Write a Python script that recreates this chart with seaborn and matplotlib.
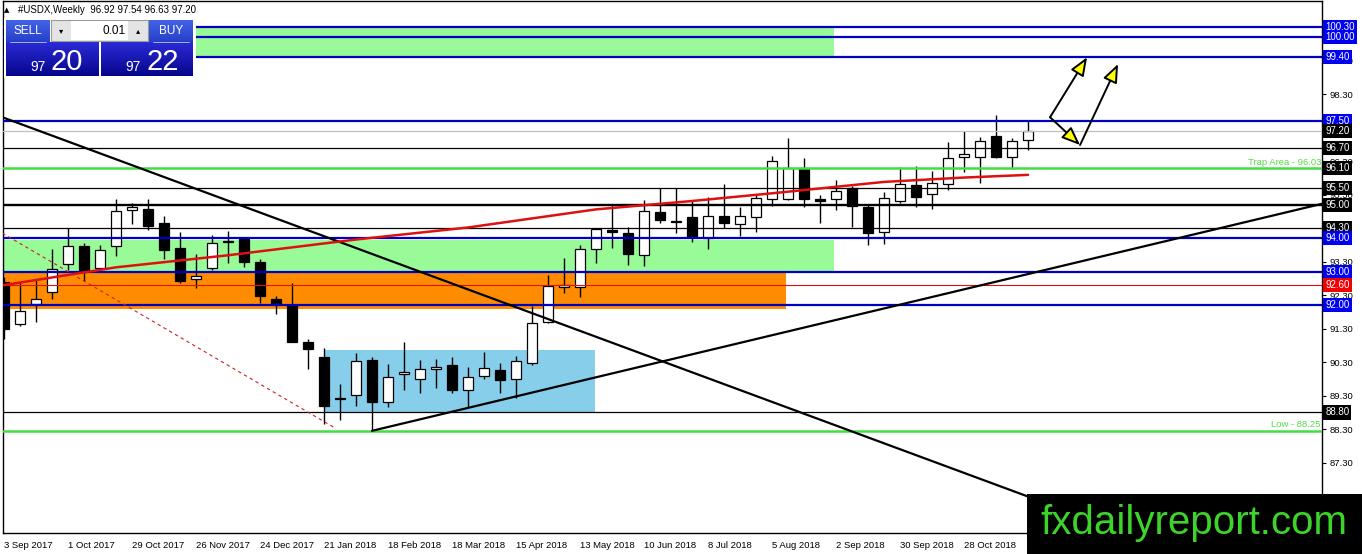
import numpy as np
import pandas as pd
import matplotlib
matplotlib.use('Agg')
import matplotlib.pyplot as plt
import matplotlib.transforms as mtransforms
from matplotlib.patches import Rectangle
from matplotlib.colors import LinearSegmentedColormap
import seaborn as sns

sns.set_style('white')
plt.rcParams['font.family'] = ['Liberation Sans', 'DejaVu Sans']

# weekly candles, first bar = 3 Sep 2017
opens = [92.70, 91.45, 92.03, 92.40, 93.22, 93.76, 93.10, 93.78, 94.83, 94.87,
         94.45, 93.70, 92.77, 93.10, 93.88, 93.99, 93.29, 92.18, 92.00, 90.89,
         90.45, 89.24, 89.33, 90.36, 89.10, 89.96, 89.80, 90.11, 90.21, 89.48,
         89.90, 90.06, 89.80, 90.26, 91.50, 92.55, 92.53, 93.67, 94.23, 94.14,
         93.51, 94.79, 94.50, 94.62, 94.01, 94.67, 94.43, 94.64, 95.18, 95.18,
         96.10, 95.17, 95.18, 95.49, 94.93, 94.19, 95.10, 95.60, 95.33, 95.63,
         96.41, 96.41, 97.05, 96.41, 96.92]
highs = [92.85, 92.70, 92.75, 93.67, 94.29, 93.86, 93.80, 95.17, 95.04, 95.17,
         94.66, 94.18, 93.52, 94.09, 94.21, 94.05, 93.39, 92.27, 92.65, 90.98,
         90.71, 89.64, 90.56, 90.44, 90.23, 90.91, 90.36, 90.38, 90.44, 90.16,
         90.59, 90.26, 90.48, 91.97, 92.90, 93.42, 93.81, 94.28, 95.01, 94.32,
         95.14, 95.51, 95.51, 95.14, 95.23, 95.63, 94.92, 95.30, 96.45, 97.00,
         96.38, 95.30, 95.73, 95.55, 95.01, 95.37, 96.13, 96.15, 96.00, 96.86,
         97.20, 97.01, 97.69, 96.98, 97.54]
lows = [91.00, 91.38, 91.50, 92.18, 93.05, 92.72, 93.05, 93.47, 94.41, 94.24,
        93.37, 92.67, 92.50, 93.05, 93.27, 93.15, 92.07, 91.75, 90.89, 90.11,
        88.44, 88.57, 88.99, 88.25, 88.95, 89.48, 89.38, 89.53, 89.38, 88.97,
        89.80, 89.37, 89.22, 90.22, 91.47, 92.35, 92.23, 93.27, 93.72, 93.20,
        93.18, 94.44, 94.16, 93.89, 93.69, 94.29, 94.07, 94.19, 94.97, 95.14,
        94.92, 94.44, 94.84, 94.34, 93.79, 93.82, 95.04, 94.94, 94.88, 95.45,
        95.98, 95.66, 96.38, 96.08, 96.63]
closes = [91.30, 91.82, 92.18, 93.07, 93.78, 93.05, 93.66, 94.80, 94.92, 94.37,
          93.64, 92.73, 92.88, 93.87, 93.92, 93.29, 92.28, 92.05, 90.91, 90.68,
          89.00, 89.20, 90.32, 89.10, 89.86, 90.00, 90.11, 90.16, 89.48, 89.86,
          90.14, 89.78, 90.32, 91.48, 92.57, 92.60, 93.67, 94.27, 94.18, 93.53,
          94.81, 94.54, 94.47, 94.04, 94.67, 94.44, 94.67, 95.19, 96.30, 96.10,
          95.16, 95.10, 95.42, 94.97, 94.16, 95.19, 95.63, 95.23, 95.66, 96.38,
          96.50, 96.89, 96.41, 96.91, 97.20]

# moving average read at a few bars
ma_bar = [0, 7, 14, 22, 29, 37, 43, 48, 55, 60, 64]
ma_val = [92.60, 93.13, 93.49, 93.96, 94.32, 94.86, 95.11, 95.34, 95.68, 95.81, 95.89]

date_pos = [0, 4, 8, 12, 16, 20, 24, 28, 32, 36, 40, 44, 48, 52, 56, 60]
date_labels = ['3 Sep 2017', '1 Oct 2017', '29 Oct 2017', '26 Nov 2017', '24 Dec 2017',
               '21 Jan 2018', '18 Feb 2018', '18 Mar 2018', '15 Apr 2018', '13 May 2018',
               '10 Jun 2018', '8 Jul 2018', '5 Aug 2018', '2 Sep 2018', '30 Sep 2018',
               '28 Oct 2018']
price_ticks = [86.3, 87.3, 88.3, 89.3, 90.3, 91.3, 92.3, 93.3, 94.3, 95.3,
               96.3, 97.3, 98.3, 99.3, 100.3]
# scale labels that sit fully under a price box
hidden_ticks = [94.3, 97.3, 100.3]

# zones: bar from, bar to, low, high
zone_x0 = [-1, -1, -1, 20.0]
zone_x1 = [51.9, 51.9, 48.9, 36.94]
zone_lo = [99.40, 93.00, 91.90, 88.80]
zone_hi = [100.30, 93.95, 93.00, 90.66]
zone_col = ['#98fb98', '#98fb98', '#ff8c00', '#87ceeb']

# horizontal levels
level_price = [100.30, 100.00, 99.40, 97.50, 97.20, 96.70, 96.10, 95.50, 95.00,
               94.30, 94.00, 93.00, 92.60, 92.00, 88.80, 88.25]
level_color = ['#0000c0', '#0000c0', '#0000c0', '#0000c0', '#c0c0c0', 'black',
               '#44dd44', 'black', 'black', 'black', '#0000c0', '#0000c0',
               '#e01010', '#0000c0', 'black', '#44dd44']
level_width = [1.6, 1.6, 1.6, 1.6, 0.9, 0.9, 1.8, 0.9, 1.7, 0.9, 1.6, 1.6, 0.8,
               1.6, 0.9, 1.8]
level_box = ['#0000f0', '#0000f0', '#0000f0', '#0000f0', 'black', 'black', 'black',
             'black', 'black', 'black', '#0000f0', '#0000f0', '#f00000',
             '#0000f0', 'black', None]

# trend lines (bar, price) pairs
down_line = [(-0.1, 97.61), (64.1, 86.27)]
up_line = [(23, 88.25), (82.4, 95.03)]
dash_line = [(-0.1, 94.15), (20.7, 88.33)]
arrows = [((65.375, 97.61), (67.69, 99.40)),
          ((65.375, 97.61), (67.25, 96.78)),
          ((67.25, 96.78), (69.625, 99.20))]

df = pd.DataFrame({'bar': np.arange(len(opens)), 'open': opens, 'high': highs,
                   'low': lows, 'close': closes})
df['up'] = df['close'] >= df['open']
df['bottom'] = df[['open', 'close']].min(axis=1)
df['height'] = (df['close'] - df['open']).abs().clip(lower=0.03)

W, H = 1362, 554
fig = plt.figure(figsize=(W / 100, H / 100), dpi=100)
ax = fig.add_axes([2.5 / W, 21 / H, 1319.8 / W, 532 / H])
ax.set_xlim(-0.094, 82.39)
ax.set_ylim(85.20, 101.08)

for x0, x1, lo, hi, c in zip(zone_x0, zone_x1, zone_lo, zone_hi, zone_col):
    ax.add_patch(Rectangle((x0, lo), x1 - x0, hi - lo, fc=c, ec='none', zorder=0.5))

# candles
ax.vlines(df['bar'], df['low'], df['high'], color='black', lw=1.0, zorder=2)
ax.bar(df['bar'], df['height'], bottom=df['bottom'], width=0.64,
       color=np.where(df['up'], 'white', 'black'), edgecolor='black', lw=0.9, zorder=2.1)

for p, c, w in zip(level_price, level_color, level_width):
    ax.axhline(p, color=c, lw=w, zorder=3)

for pts, c, lw, ls in [(down_line, 'black', 1.6, '-'), (up_line, 'black', 1.6, '-'),
                       (dash_line, '#cc2020', 0.8, (0, (3, 3)))]:
    xs, ys = zip(*pts)
    ax.plot(xs, ys, color=c, lw=lw, ls=ls, zorder=3.2)

sns.lineplot(x=ma_bar, y=ma_val, ax=ax, color='#dd1111', lw=1.8, zorder=3.5)

for start, end in arrows:
    ax.annotate('', xy=end, xytext=start, annotation_clip=False,
                arrowprops=dict(arrowstyle='-|>,head_length=0.8,head_width=0.32',
                                mutation_scale=14, fc='yellow', ec='black', lw=1.4,
                                shrinkA=0, shrinkB=0), zorder=4)

# axis styling
ax.yaxis.tick_right()
ax.set_yticks(price_ticks)
ax.set_yticklabels(['' if t in hidden_ticks else f'{t:.2f}' for t in price_ticks])
ax.set_xticks(date_pos)
ax.set_xticklabels(date_labels, ha='left')
ax.tick_params(axis='both', labelsize=6.8, length=3, width=0.8, direction='out',
               colors='black', pad=2)
ax.tick_params(axis='x', pad=3)
ax.set_xlabel('')
ax.set_ylabel('')
for s in ax.spines.values():
    s.set_color('black')
    s.set_linewidth(1.0)

# price boxes on the right scale
trans = mtransforms.blended_transform_factory(ax.transAxes, ax.transData)
for p, b in zip(level_price, level_box):
    if b is None:
        continue
    ax.text(1.0022, p, f'{p:.2f}', transform=trans, ha='left', va='center',
            fontsize=7, color='white', clip_on=False, zorder=6,
            bbox=dict(boxstyle='square,pad=0.22', fc=b, ec='none'))

ax.text(0.999, 96.13, 'Trap Area - 96.03', transform=trans, ha='right', va='bottom',
        fontsize=6.8, color='#55dd44', zorder=5)
ax.text(0.999, 88.29, 'Low - 88.25', transform=trans, ha='right', va='bottom',
        fontsize=6.8, color='#55dd44', zorder=5)

# overlay for the trade panel and watermark (pixel coordinates)
ui = fig.add_axes([0, 0, 1, 1], zorder=5)
ui.patch.set_alpha(0)
ui.axis('off')


def grad(x0, y0, x1, y1, c_top, c_bot):
    cm = LinearSegmentedColormap.from_list('g', [c_top, c_bot])
    ui.imshow(np.linspace(0, 1, 64).reshape(-1, 1), extent=(x0, x1, y1, y0),
              cmap=cm, aspect='auto', interpolation='bilinear', zorder=2)


ui.add_patch(Rectangle((4, 18), 192, 60, fc='white', ec='none', zorder=1))
grad(6, 20, 50, 42, '#4463e6', '#2440c8')
grad(149, 20, 193, 42, '#4463e6', '#2440c8')
grad(6, 42, 99, 76, '#2a2ad6', '#06068c')
grad(101, 42, 193, 76, '#2a2ad6', '#06068c')
ui.add_patch(Rectangle((51, 20), 97, 21, fc='#e4e4e4', ec='#9a9a9a', lw=0.8, zorder=3))
ui.add_patch(Rectangle((71, 21), 57, 19, fc='white', ec='none', zorder=3.5))
ui.plot([10, 46], [41.5, 41.5], color='#b8c4f0', lw=0.6, zorder=4)
ui.plot([153, 189], [41.5, 41.5], color='#b8c4f0', lw=0.6, zorder=4)
ui.text(28, 31, 'SELL', color='white', fontsize=8.5, ha='center', va='center', zorder=5)
ui.text(171, 31, 'BUY', color='white', fontsize=8.5, ha='center', va='center', zorder=5)
ui.text(126, 31, '0.01', color='black', fontsize=8.5, ha='right', va='center', zorder=5)
ui.text(61, 31, '\u25be', color='black', fontsize=6, ha='center', va='center', zorder=5,
        family=['DejaVu Sans'])
ui.text(138, 31, '\u25b4', color='black', fontsize=6, ha='center', va='center', zorder=5,
        family=['DejaVu Sans'])
ui.text(46, 71, '97', color='white', fontsize=10, ha='right', va='baseline', zorder=5)
ui.text(51, 70, '20', color='white', fontsize=21, ha='left', va='baseline', zorder=5)
ui.text(141, 71, '97', color='white', fontsize=10, ha='right', va='baseline', zorder=5)
ui.text(146, 70, '22', color='white', fontsize=21, ha='left', va='baseline', zorder=5)

ui.text(7, 10, '\u25b2', color='black', fontsize=5, ha='center', va='center',
        family=['DejaVu Sans'])
ui.text(18, 10, '#USDX,Weekly  96.92 97.54 96.63 97.20', color='black', fontsize=7,
        ha='left', va='center')

ui.add_patch(Rectangle((1027, 494), W - 1027, H - 494, fc='black', ec='none', zorder=6))
ui.text(1194, 523, 'fxdailyreport.com', color='#3dd42a', fontsize=29, ha='center',
        va='center', family=['Liberation Sans', 'DejaVu Sans'], zorder=7)

ui.set_xlim(0, W)
ui.set_ylim(H, 0)

fig.savefig('out.png', dpi=100)
